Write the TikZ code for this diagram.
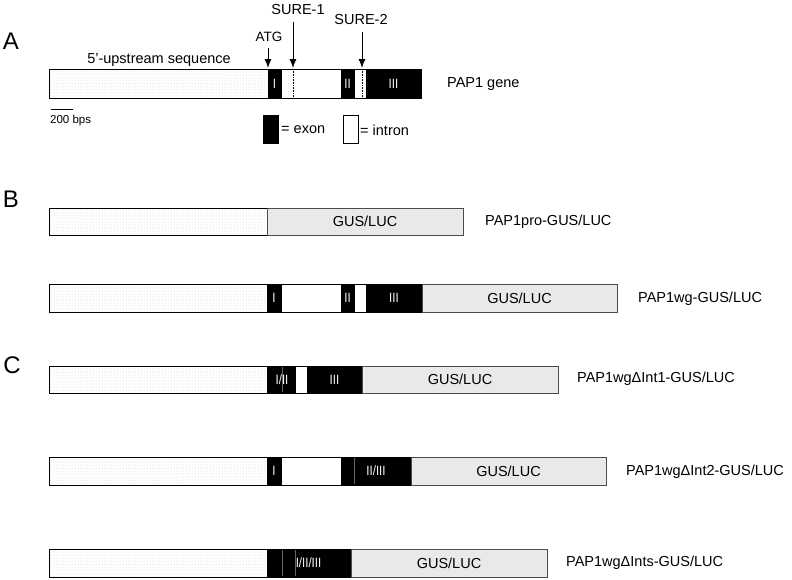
\documentclass[tikz,border=0pt]{standalone}
\usepackage{fontspec}
\usepackage{graphicx}
\setmainfont{Liberation Sans}
\usetikzlibrary{patterns,arrows.meta}

\newcommand{\narrow}[1]{\scalebox{0.85}[1]{#1}}

\tikzset{
  upstream/.style={draw, line width=0.9pt, pattern=dots, pattern color=gray!40},
  exon/.style={draw, line width=0.9pt, fill=black},
  intron/.style={draw, line width=0.9pt, fill=white},
  reporter/.style={draw=black!70, line width=0.9pt, fill=gray!17},
  joint/.style={draw=black!60, line width=0.5pt},
  site/.style={densely dotted, line width=0.6pt},
  pointer/.style={line width=1pt, -{Latex[length=9pt,width=7pt]}, shorten <=3pt},
  numeral/.style={text=white, inner sep=0pt, font=\fontsize{13.5}{13.5}\selectfont},
  panel/.style={font=\fontsize{24}{24}\selectfont},
  tag/.style={font=\fontsize{14.5}{15}\selectfont},
  construct/.style={anchor=west, inner sep=0pt, font=\fontsize{14.5}{15}\selectfont},
}

\begin{document}
\begin{tikzpicture}[x=1pt, y=-1pt]
  \useasboundingbox (0,0) rectangle (792,579);

  % A: PAP1 gene
  \node[panel] (lblA) at (11,41) {A};
  \draw[upstream] (49,69) rectangle (268,98);
  \draw[exon] (268,69) rectangle (281,98);
  \draw[intron] (281,69) rectangle (341,98);
  \draw[exon] (341,69) rectangle (354,98);
  \draw[intron] (354,69) rectangle (366,98);
  \draw[exon] (366,69) rectangle (421,98);
  \draw[site] (293,69) -- (293,98);
  \draw[site] (362,69) -- (362,98);
  \node[numeral] (a1) at (274.5,83.5) {\narrow{I}};
  \node[numeral] (a2) at (347.5,83.5) {\narrow{II}};
  \node[numeral] (a3) at (393.5,83.5) {\narrow{III}};
  \node[tag] (upseq) at (159,60) {5'-upstream sequence};
  \node[construct] (gene) at (447,84) {PAP1 gene};

  \node[tag, font=\fontsize{13.5}{14}\selectfont] (atg) at (269,37) {ATG};
  \node[tag] (sure1) at (298,10) {SURE-1};
  \node[tag] (sure2) at (361,20) {SURE-2};
  \coordinate (atgtip) at (268,68);
  \coordinate (sure1tip) at (293,68);
  \coordinate (sure2tip) at (362,68);
  \draw[pointer] (atgtip |- atg.south) -- (atgtip);
  \draw[pointer] (sure1tip |- sure1.south) -- (sure1tip);
  \draw[pointer] (sure2tip |- sure2.south) -- (sure2tip);

  \coordinate (bar0) at (51,109);
  \coordinate (bar1) at (73,109);
  \draw[line width=0.8pt] (bar0) -- (bar1);
  \node[anchor=west, inner sep=0pt, font=\fontsize{11.5}{12}\selectfont] (scale) at (50,121) {200 bps};

  \draw[exon] (263,115) rectangle (278,143);
  \node[construct] (exonkey) at (281,130) {= exon};
  \draw[intron] (343,115) rectangle (358,143);
  \node[construct] (intronkey) at (360,130) {= intron};

  % B
  \node[panel] (lblB) at (11,199) {B};
  \draw[upstream] (49,208) rectangle (267,235);
  \draw[reporter] (267,208) rectangle (463,235);
  \node[tag] (gusB1) at (365,221.5) {GUS/LUC};
  \node[construct] (pro) at (485,222) {PAP1pro-GUS/LUC};

  \draw[upstream] (49,284) rectangle (267,312);
  \draw[exon] (267,284) rectangle (281,312);
  \draw[intron] (281,284) rectangle (341,312);
  \draw[exon] (341,284) rectangle (354,312);
  \draw[intron] (354,284) rectangle (366,312);
  \draw[exon] (366,284) rectangle (422,312);
  \draw[reporter] (422,284) rectangle (617,312);
  \node[numeral] (b1) at (274,298) {\narrow{I}};
  \node[numeral] (b2) at (347.5,298) {\narrow{II}};
  \node[numeral] (b3) at (394,298) {\narrow{III}};
  \node[tag] (gusB2) at (519.5,298) {GUS/LUC};
  \node[construct] (wg) at (638,299) {PAP1wg-GUS/LUC};

  % C
  \node[panel] (lblC) at (12,365) {C};
  \draw[upstream] (49,366) rectangle (267,393);
  \draw[exon] (267,366) rectangle (295,393);
  \draw[intron] (295,366) rectangle (307,393);
  \draw[exon] (307,366) rectangle (362,393);
  \draw[reporter] (362,366) rectangle (558,393);
  \draw[joint] (282,367) -- (282,392);
  \node[numeral] (c1) at (282,379.5) {\narrow{I/II}};
  \node[numeral] (c2) at (334.5,379.5) {\narrow{III}};
  \node[tag] (gusC1) at (460,379.5) {GUS/LUC};
  \node[construct] (int1) at (577,379) {PAP1wgΔInt1-GUS/LUC};

  \draw[upstream] (49,457) rectangle (267,485);
  \draw[exon] (267,457) rectangle (281,485);
  \draw[intron] (281,457) rectangle (341,485);
  \draw[exon] (341,457) rectangle (411,485);
  \draw[reporter] (411,457) rectangle (606,485);
  \draw[joint] (354,458) -- (354,484);
  \node[numeral] (d1) at (274,471) {\narrow{I}};
  \node[numeral] (d2) at (376,471) {\narrow{II/III}};
  \node[tag] (gusC2) at (508.5,471) {GUS/LUC};
  \node[construct] (int2) at (626,472) {PAP1wgΔInt2-GUS/LUC};

  \draw[upstream] (49,549) rectangle (267,577);
  \draw[exon] (267,549) rectangle (351,577);
  \draw[reporter] (351,549) rectangle (547,577);
  \draw[joint] (282,550) -- (282,576);
  \draw[joint] (295,550) -- (295,576);
  \node[numeral] (e1) at (308.5,563) {\narrow{I/II/III}};
  \node[tag] (gusC3) at (449,563) {GUS/LUC};
  \node[construct] (ints) at (566,563) {PAP1wgΔInts-GUS/LUC};
\end{tikzpicture}
\end{document}
